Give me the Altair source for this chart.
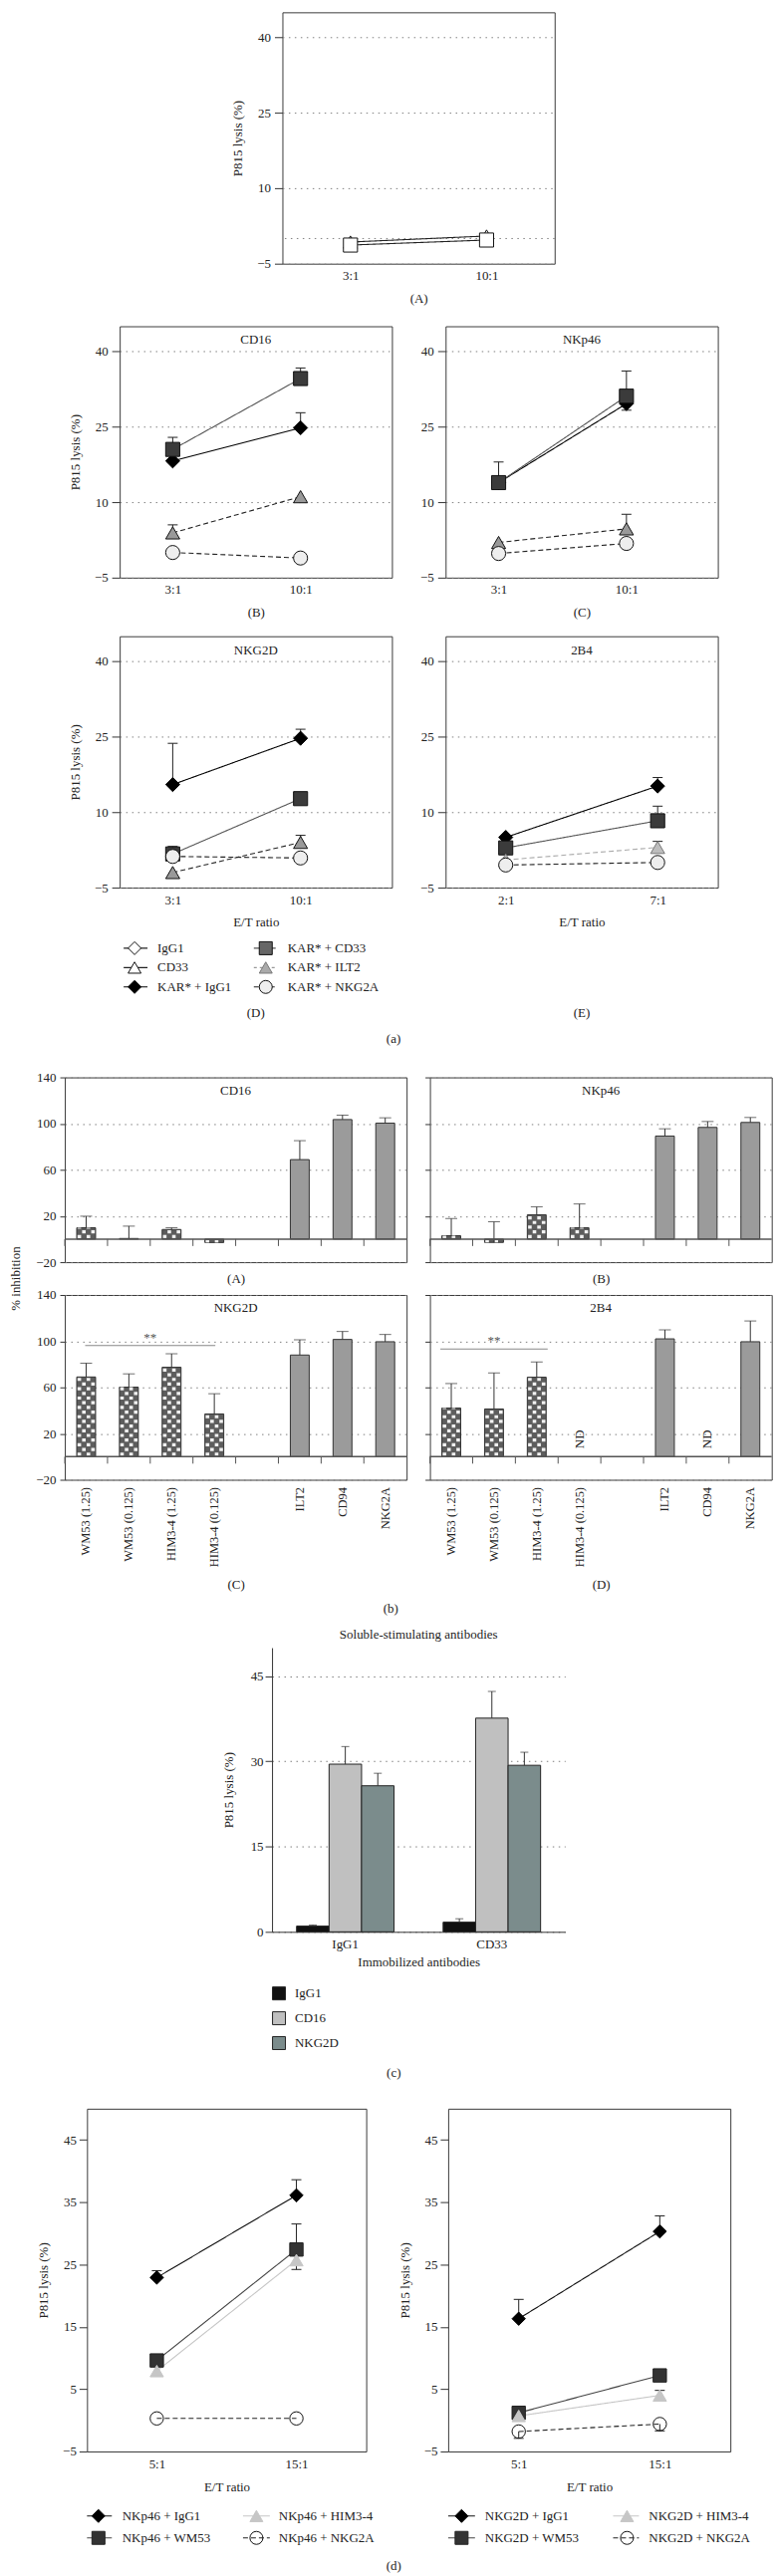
import json
import altair as alt
import pandas as pd

FONT = "Liberation Serif"
INK = "#222222"
GRID = "#7f7f7f"
DOTS = [1.5, 4.5]

# ------------------------------------------------------------------ (a)
A_RATIOS = ["3:1", "10:1"]
A_SERIES = ["CD33", "IgG1"]
A_VALS = [[-0.7, 0.5], [-1.3, -0.3]]
A_ERRS = [[-0.7, 0.5], [-1.3, -0.3]]

KAR_SERIES = ["KAR* + IgG1", "KAR* + CD33", "KAR* + ILT2", "KAR* + NKG2A"]
B_RATIOS = ["3:1", "10:1"]
B_VALS = [[18.2, 24.8], [20.5, 34.6], [3.9, 11.1], [0.0, -1.1]]
B_ERRS = [[18.2, 27.8], [22.9, 36.7], [5.5, 11.1], [0.0, -1.1]]
C_RATIOS = ["3:1", "10:1"]
C_VALS = [[13.9, 29.6], [13.9, 31.1], [2.0, 4.7], [-0.2, 1.8]]
C_ERRS = [[13.9, 28.3], [18.0, 36.1], [2.0, 7.6], [-0.2, 1.8]]
D_RATIOS = ["3:1", "10:1"]
D_VALS = [[15.5, 24.7], [1.7, 12.7], [-2.0, 4.0], [1.2, 0.9]]
D_ERRS = [[23.7, 26.5], [3.2, 12.7], [-2.0, 5.4], [1.2, 0.9]]
E_RATIOS = ["2:1", "7:1"]
E_VALS = [[5.0, 15.2], [2.9, 8.3], [0.5, 3.0], [-0.5, 0.0]]
E_ERRS = [[5.0, 16.9], [2.9, 11.2], [0.5, 4.2], [-0.5, 0.0]]
A_LEGEND = ["IgG1", "CD33", "KAR* + IgG1", "KAR* + CD33", "KAR* + ILT2", "KAR* + NKG2A"]

# ------------------------------------------------------------------ (b)
B_CATS = ["WM53 (1.25)", "WM53 (0.125)", "HIM3-4 (1.25)", "HIM3-4 (0.125)", " ",
          "ILT2", "CD94", "NKG2A"]
CD16_VALS = [9.8, 0.5, 8.3, -3.0, None, 68.8, 103.5, 100.4]
CD16_ERRS = [19.8, 11.2, 9.8, None, None, 85.2, 107.3, 105.0]
NKP46_VALS = [2.9, -2.9, 21.0, 9.8, None, 89.2, 96.7, 101.0]
NKP46_ERRS = [17.8, 15.0, 27.9, 30.4, None, 95.5, 101.8, 105.3]
NKG2D_VALS = [69.0, 60.2, 77.4, 37.0, None, 88.0, 101.5, 99.5]
NKG2D_ERRS = [80.9, 71.7, 89.1, 54.5, None, 101.2, 108.4, 105.8]
B4_VALS = [42.1, 41.3, 68.8, None, None, 102.0, None, 99.5]
B4_ERRS = [63.3, 72.5, 82.0, None, None, 109.8, None, 117.5]
B4_ND = ["HIM3-4 (0.125)", "CD94"]
NKG2D_SIG = ["WM53 (1.25)", "HIM3-4 (0.125)", 96.3]
B4_SIG = ["WM53 (1.25)", "HIM3-4 (1.25)", 93.2]

# ------------------------------------------------------------------ (c)
C_GROUPS = ["IgG1", "CD33"]
C_STIM = ["IgG1", "CD16", "NKG2D"]
C_IGG1_VALS = [1.0, 29.5, 25.7]
C_IGG1_ERRS = [1.2, 32.6, 27.9]
C_CD33_VALS = [1.7, 37.6, 29.3]
C_CD33_ERRS = [2.3, 42.3, 31.6]

# ------------------------------------------------------------------ (d)
D_ET = ["5:1", "15:1"]
DL_SERIES = ["NKp46 + IgG1", "NKp46 + WM53", "NKp46 + HIM3-4", "NKp46 + NKG2A"]
DL_VALS = [[22.9, 36.1], [9.6, 27.4], [7.9, 25.7], [0.3, 0.3]]
DL_ERRS = [[24.0, 38.6], [9.6, 31.5], [7.9, 24.2], [0.3, 0.3]]
DR_SERIES = ["NKG2D + IgG1", "NKG2D + WM53", "NKG2D + HIM3-4", "NKG2D + NKG2A"]
DR_VALS = [[16.3, 30.3], [1.2, 7.2], [0.7, 4.0], [-1.8, -0.6]]
DR_ERRS = [[19.4, 32.8], [1.2, 7.2], [0.7, 4.8], [-2.9, -1.7]]

# ------------------------------------------------------------------ styles
SOLID = [1, 0]
DASH = [5, 3]
A_STYLE = {
    "IgG1": dict(shape="diamond", fill="#ffffff", stroke="#111111", line="#222222", dash=SOLID),
    "CD33": dict(shape="triangle-up", fill="#ffffff", stroke="#111111", line="#222222", dash=SOLID),
    "KAR* + IgG1": dict(shape="diamond", fill="#000000", stroke="#000000", line="#000000", dash=SOLID),
    "KAR* + CD33": dict(shape="square", fill="#3b3b3b", stroke="#111111", line="#555555", dash=SOLID),
    "KAR* + ILT2": dict(shape="triangle-up", fill="#999999", stroke="#111111", line="#222222", dash=DASH),
    "KAR* + NKG2A": dict(shape="circle", fill="#eeeeee", stroke="#111111", line="#222222", dash=DASH),
}
A_STYLE_PANEL_A = dict(A_STYLE, IgG1=dict(A_STYLE["IgG1"], shape="square"))
E_STYLE = dict(A_STYLE)
E_STYLE["KAR* + ILT2"] = dict(shape="triangle-up", fill="#bdbdbd", stroke="#777777",
                              line="#aaaaaa", dash=DASH)
LEG_STYLE = dict(A_STYLE)
LEG_STYLE["KAR* + CD33"] = dict(A_STYLE["KAR* + CD33"], fill="#666666")
LEG_STYLE["KAR* + ILT2"] = dict(shape="triangle-up", fill="#aaaaaa", stroke="#777777",
                                line="#999999", dash=[3, 3])


def d_style(prefix):
    return {
        prefix + " + IgG1": dict(shape="diamond", fill="#000000", stroke="#000000", line="#111111", dash=SOLID),
        prefix + " + WM53": dict(shape="square", fill="#333333", stroke="#222222", line="#444444", dash=SOLID),
        prefix + " + HIM3-4": dict(shape="triangle-up", fill="#c6c6c6", stroke="#c6c6c6", line="#c6c6c6", dash=SOLID),
        prefix + " + NKG2A": dict(shape="circle", fill="transparent", stroke="#111111", line="#222222", dash=DASH),
    }


C_COLORS = ["#111111", "#c0c0c0", "#7b8c8c"]

ONE = pd.DataFrame({"k": [0]})


def indep(ch):
    return ch.resolve_scale(color="independent", fill="independent", stroke="independent",
                            shape="independent", strokeDash="independent")


def txt(label, px, py, size=13, align="center", baseline="middle", color=INK):
    return alt.Chart(ONE).mark_text(text=label, fontSize=size, font=FONT, align=align,
                                    baseline=baseline, color=color).encode(
        x=alt.value(px), y=alt.value(py))


def legend_entry(label, st, x0, x1, xm, xt, py, msize=170):
    line = alt.Chart(ONE).mark_rule(color=st["line"], strokeDash=st["dash"], strokeWidth=1.1).encode(
        x=alt.value(x0), x2=alt.value(x1), y=alt.value(py))
    mark = alt.Chart(ONE).mark_point(shape=st["shape"], filled=True, fill=st["fill"],
                                     stroke=st["stroke"], strokeWidth=1, size=msize,
                                     opacity=1).encode(x=alt.value(xm), y=alt.value(py))
    return [line, mark, txt(label, xt, py, align="left")]


def line_panel(series, ratios, vals, errs, style, *, width, height, xdom, ydom, yvals, grid,
               ytitle, xtitle, ytitle_pad=12, xtitle_pad=10, label_pad=6, ypad=4, cap=5,
               msize=200, zero_grid=False, extra=()):
    rows = []
    for s, v, e in zip(series, vals, errs):
        for i in range(len(ratios)):
            rows.append({"series": s, "xi": i, "val": v[i], "err": e[i]})
    df = pd.DataFrame(rows)
    dfe = df[(df["err"] - df["val"]).abs() > 0.05]
    x = alt.X("xi:Q", scale=alt.Scale(domain=xdom, nice=False, zero=False),
              axis=alt.Axis(values=list(range(len(ratios))),
                            labelExpr=json.dumps(ratios) + "[datum.value]",
                            ticks=False, domain=False, grid=False, labelPadding=label_pad,
                            title=xtitle, titlePadding=xtitle_pad))
    ysc = alt.Scale(domain=ydom, nice=False, zero=False)
    yax = alt.Axis(values=yvals, grid=grid, gridDash=DOTS, gridColor=GRID, domain=False,
                   tickSize=8, labelPadding=ypad, title=ytitle, titlePadding=ytitle_pad)

    def Y(f):
        return alt.Y(f + ":Q", scale=ysc, axis=yax)

    def sc(key):
        return alt.Scale(domain=series, range=[style[s][key] for s in series])

    layers = []
    if zero_grid:
        layers.append(alt.Chart(ONE).mark_rule(strokeDash=DOTS, color=GRID).encode(y=Y("k")))
    layers.append(alt.Chart(df).mark_line(strokeWidth=1.1).encode(
        x=x, y=Y("val"),
        color=alt.Color("series:N", scale=sc("line"), legend=None),
        strokeDash=alt.StrokeDash("series:N", scale=sc("dash"), legend=None)))
    if len(dfe):
        layers.append(alt.Chart(dfe).mark_rule(color=INK, strokeWidth=1).encode(
            x=x, y=Y("val"), y2=alt.Y2("err")))
        layers.append(alt.Chart(dfe).mark_rule(color=INK, strokeWidth=1, xOffset=-cap,
                                               x2Offset=cap).encode(
            x=x, x2=alt.X2("xi"), y=Y("err")))
    layers.append(alt.Chart(df).mark_point(filled=True, opacity=1, size=msize, strokeWidth=1).encode(
        x=x, y=Y("val"),
        shape=alt.Shape("series:N", scale=sc("shape"), legend=None),
        fill=alt.Fill("series:N", scale=sc("fill"), legend=None),
        stroke=alt.Stroke("series:N", scale=sc("stroke"), legend=None)))
    return alt.layer(*layers, *extra).properties(width=width, height=height)


# ------------------------------------------------------------------ section (a)
W_A, H_A = 274, 253
XD_BCD = [-0.415, 1.715]
XD_E = [-0.396, 1.396]
common_a = dict(width=W_A, height=H_A, ydom=[-5, 45], yvals=[-5, 10, 25, 40], grid=True)

pA = line_panel(A_SERIES, A_RATIOS, A_VALS, A_ERRS, A_STYLE_PANEL_A, xdom=[-0.5, 1.5],
                ytitle="P815 lysis (%)", xtitle="(A)", zero_grid=True, **common_a)
pB = line_panel(KAR_SERIES, B_RATIOS, B_VALS, B_ERRS, A_STYLE, xdom=XD_BCD,
                ytitle="P815 lysis (%)", xtitle="(B)", extra=[txt("CD16", W_A / 2, 14)], **common_a)
pC = line_panel(KAR_SERIES, C_RATIOS, C_VALS, C_ERRS, A_STYLE, xdom=XD_BCD,
                ytitle=None, xtitle="(C)", extra=[txt("NKp46", W_A / 2, 14)], **common_a)

leg_a = []
for i, name in enumerate(A_LEGEND):
    col, row = divmod(i, 3)
    py = 314 + row * 19.5
    if col == 0:
        leg_a += legend_entry(name, LEG_STYLE[name], 4, 28, 15, 38, py)
    else:
        leg_a += legend_entry(name, LEG_STYLE[name], 135, 157, 147, 169, py)

pD = line_panel(KAR_SERIES, D_RATIOS, D_VALS, D_ERRS, A_STYLE, xdom=XD_BCD,
                ytitle="P815 lysis (%)", xtitle="E/T ratio",
                extra=[txt("NKG2D", W_A / 2, 14), txt("(D)", W_A / 2, 379)] + leg_a, **common_a)
pE = line_panel(KAR_SERIES, E_RATIOS, E_VALS, E_ERRS, E_STYLE, xdom=XD_E,
                ytitle=None, xtitle="E/T ratio",
                extra=[txt("2B4", W_A / 2, 14), txt("(E)", W_A / 2, 379)], **common_a)

grid_a = indep(alt.concat(pB, pC, pD, pE, columns=2, bounds="flush",
                          spacing={"row": 59, "column": 54}))
secA = indep(alt.vconcat(pA, grid_a, spacing=19, center=True,
                         title=alt.TitleParams("(a)", orient="bottom", offset=13,
                                               anchor="middle")))

# ------------------------------------------------------------------ section (b)
W_B, H_B = 344, 186
STEP_B = W_B / len(B_CATS)


def bar_panel(name, vals, errs, *, show_labels, show_ylabels, bottom, ytitle=False, nd=(),
              sig=None, sig_pad=2):
    kinds = ["check"] * 4 + ["gap"] + ["solid"] * 3
    df = pd.DataFrame({"cat": B_CATS, "val": vals, "err": errs, "kind": kinds})
    df["zero"] = 0.0
    dfb = df.dropna(subset=["val"])
    dfc = dfb[dfb["kind"] == "check"]
    dfe = df.dropna(subset=["err"])
    xsc = alt.Scale(domain=B_CATS, paddingInner=0, paddingOuter=0)
    if show_labels:
        xax = alt.Axis(labelAngle=270, labelPadding=7, ticks=False, domain=False, title=bottom,
                       titlePadding=12, labelFontSize=12.5)
    else:
        xax = alt.Axis(labels=False, ticks=False, domain=False, title=bottom, titlePadding=10)
    X = alt.X("cat:N", scale=xsc, axis=xax)
    yargs = dict(values=[-20, 20, 60, 100, 140], grid=True, gridDash=DOTS, gridColor=GRID,
                 domain=False, tickSize=5, labelPadding=4, labels=show_ylabels)
    if ytitle:
        yax = alt.Axis(title="% inhibition", titleX=-50, titleY=202, titleAngle=270,
                       titleAlign="center", titleBaseline="middle", **yargs)
    else:
        yax = alt.Axis(title=None, **yargs)
    ysc = alt.Scale(domain=[-20, 140], nice=False)

    def Y(f):
        return alt.Y(f + ":Q", scale=ysc, axis=yax)

    layers = [
        alt.Chart(dfb).mark_bar(size=19, stroke="#333333", strokeWidth=1).encode(
            x=X, y=Y("val"),
            fill=alt.Fill("kind:N", scale=alt.Scale(domain=["check", "solid"],
                                                    range=["#5d5d5d", "#9b9b9b"]), legend=None))
    ]
    for j, off in enumerate([-6.9, -2.3, 2.3, 6.9]):
        layers.append(alt.Chart(dfc).mark_rule(
            color="#f2f2f2", strokeWidth=3.6, strokeDash=[3.2, 6.2],
            strokeDashOffset=(8.4 if j % 2 == 0 else 3.7), xOffset=off).encode(
            x=X, y=Y("zero"), y2=alt.Y2("val")))
    layers += [
        alt.Chart(dfe).mark_rule(color="#333333", strokeWidth=1).encode(
            x=X, y=Y("val"), y2=alt.Y2("err")),
        alt.Chart(dfe).mark_tick(color="#333333", size=12, thickness=1).encode(x=X, y=Y("err")),
        alt.Chart(ONE).mark_rule(color="#555555", strokeWidth=1.5).encode(y=Y("k")),
        alt.Chart(df).mark_rule(
            color="#555555", strokeWidth=1, xOffset=-STEP_B / 2, y2Offset=7).encode(
            x=X, y=Y("zero"), y2=alt.Y2("zero")),
        txt(name, W_B / 2, 13),
    ]
    if nd:
        ndf = pd.DataFrame({"cat": list(nd), "pos": [7.0] * len(nd)})
        layers.append(alt.Chart(ndf).mark_text(
            text="ND", angle=270, align="left", baseline="middle", fontSize=13, color=INK).encode(
            x=X, y=Y("pos")))
    if sig:
        a, b, yv = sig
        span = (B_CATS.index(b) - B_CATS.index(a)) * STEP_B
        sd = pd.DataFrame({"cat": [a], "pos": [yv]})
        layers.append(alt.Chart(sd).mark_tick(color="#555555", thickness=1, size=span + sig_pad,
                                              xOffset=span / 2).encode(x=X, y=Y("pos")))
        layers.append(alt.Chart(sd).mark_text(text="**", fontSize=13, baseline="bottom", dy=-1,
                                              xOffset=span / 2, color="#555555").encode(
            x=X, y=Y("pos")))
    return alt.layer(*layers).properties(width=W_B, height=H_B)


bA = bar_panel("CD16", CD16_VALS, CD16_ERRS, show_labels=False, show_ylabels=True,
               bottom="(A)", ytitle=True)
bB = bar_panel("NKp46", NKP46_VALS, NKP46_ERRS, show_labels=False, show_ylabels=False,
               bottom="(B)")
bC = bar_panel("NKG2D", NKG2D_VALS, NKG2D_ERRS, show_labels=True, show_ylabels=True,
               bottom="(C)", sig=NKG2D_SIG, sig_pad=2)
bD = bar_panel("2B4", B4_VALS, B4_ERRS, show_labels=True, show_ylabels=False,
               bottom="(D)", nd=B4_ND, sig=B4_SIG, sig_pad=22)
secB = indep(alt.concat(bA, bB, bC, bD, columns=2, bounds="flush",
                        spacing={"row": 33, "column": 23.5},
                        title=alt.TitleParams("(b)", orient="bottom", offset=11,
                                              anchor="middle")))

# ------------------------------------------------------------------ section (c)
rows_c = []
for g, vals, errs in [("IgG1", C_IGG1_VALS, C_IGG1_ERRS), ("CD33", C_CD33_VALS, C_CD33_ERRS)]:
    for s, v, e in zip(C_STIM, vals, errs):
        rows_c.append({"group": g, "stim": s, "val": v, "err": e})
df_c = pd.DataFrame(rows_c)
Xc = alt.X("group:N", scale=alt.Scale(domain=C_GROUPS, paddingInner=0.335, paddingOuter=0.1675),
           axis=alt.Axis(title="Immobilized antibodies", labelAngle=0, ticks=False, domain=True,
                         labelPadding=6, titlePadding=5))
XOc = alt.XOffset("stim:N", scale=alt.Scale(domain=C_STIM, paddingInner=0, paddingOuter=0))
ysc_c = alt.Scale(domain=[0, 50], nice=False)
yax_c = alt.Axis(values=[0, 15, 30, 45], grid=True, gridDash=DOTS, gridColor=GRID, domain=True,
                 tickSize=7, labelPadding=2, title="P815 lysis (%)", titlePadding=15)
bars_c = alt.Chart(df_c).mark_bar(stroke="#222222", strokeWidth=1).encode(
    x=Xc, xOffset=XOc, y=alt.Y("val:Q", scale=ysc_c, axis=yax_c),
    fill=alt.Fill("stim:N", scale=alt.Scale(domain=C_STIM, range=C_COLORS),
                  legend=alt.Legend(orient="none", legendX=0, legendY=341, title=None,
                                    direction="vertical", symbolType="square", symbolSize=169,
                                    symbolStrokeColor="#222222", symbolStrokeWidth=1,
                                    labelFontSize=13, labelOffset=9, rowPadding=7, padding=0)))
err_c = alt.Chart(df_c).mark_rule(color="#333333").encode(
    x=Xc, xOffset=XOc, y=alt.Y("val:Q", scale=ysc_c, axis=yax_c), y2=alt.Y2("err"))
cap_c = alt.Chart(df_c).mark_tick(color="#333333", size=8, thickness=1).encode(
    x=Xc, xOffset=XOc, y=alt.Y("err:Q", scale=ysc_c, axis=yax_c))
chart_c = alt.layer(bars_c, err_c, cap_c).properties(
    width=295, height=286, view=alt.ViewBackground(stroke="transparent"),
    title=alt.TitleParams("Soluble-stimulating antibodies", offset=6, anchor="middle"))
secC = indep(alt.vconcat(chart_c, title=alt.TitleParams("(c)", orient="bottom", offset=15,
                                                       anchor="middle")))

# ------------------------------------------------------------------ section (d)
common_d = dict(height=345, xdom=[-0.5, 1.5], ydom=[-5, 50], yvals=[-5, 5, 15, 25, 35, 45],
                grid=False, ytitle="P815 lysis (%)", xtitle="E/T ratio", ypad=3,
                label_pad=7, msize=180)
st_l = d_style("NKp46")
st_r = d_style("NKG2D")
leg_l, leg_r = [], []
for i, name in enumerate(DL_SERIES):
    col, row = divmod(i, 2)
    py = 410 + row * 22
    if col == 0:
        leg_l += legend_entry(name, st_l[name], 0, 25, 11.5, 35.5, py)
    else:
        leg_l += legend_entry(name, st_l[name], 157, 184, 170.5, 193, py)
for i, name in enumerate(DR_SERIES):
    col, row = divmod(i, 2)
    py = 410 + row * 22
    if col == 0:
        leg_r += legend_entry(name, st_r[name], 0, 27, 13.5, 37, py)
    else:
        leg_r += legend_entry(name, st_r[name], 166, 192, 180, 202, py)

dL = line_panel(DL_SERIES, D_ET, DL_VALS, DL_ERRS, st_l, width=281, extra=leg_l, **common_d)
dR = line_panel(DR_SERIES, D_ET, DR_VALS, DR_ERRS, st_r, width=284, extra=leg_r, **common_d)
secD = indep(alt.hconcat(dL, dR, bounds="flush", spacing=82.5,
                         title=alt.TitleParams("(d)", orient="bottom", offset=13,
                                               anchor="middle")))

# ------------------------------------------------------------------ page
top = indep(alt.vconcat(
    indep(alt.vconcat(secA, secB, spacing=24, center=True)),
    indep(alt.vconcat(secC, secD, spacing=27, center=True)),
    spacing=11, center=True,
)).properties(padding=0)

top = (top.configure(font=FONT)
       .configure_axis(labelFont=FONT, titleFont=FONT, labelFontSize=13, titleFontSize=13,
                       titleFontWeight="normal", labelColor=INK, titleColor=INK,
                       tickColor="#333333", domainColor="#333333", tickWidth=1)
       .configure_view(stroke="#3a3a3a", strokeWidth=1)
       .configure_title(font=FONT, fontSize=13, fontWeight="normal", color=INK)
       .configure_legend(labelFont=FONT, labelColor=INK))

top.save("out.html", embed_options={"renderer": "svg", "actions": False})
